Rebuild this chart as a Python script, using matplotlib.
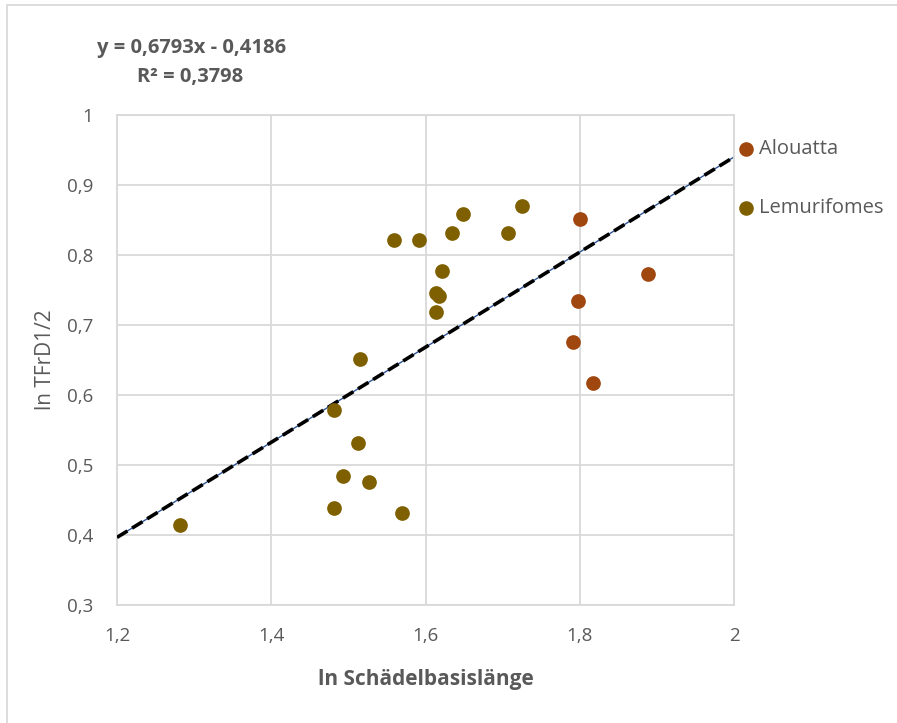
import matplotlib.pyplot as plt
from matplotlib.lines import Line2D

plt.rcParams['font.family'] = ['Open Sans', 'DejaVu Sans']

# ln Schädelbasislänge / ln TFrD1/2
alouatta_x = [1.800, 1.888, 1.798, 1.791, 1.817]
alouatta_y = [0.852, 0.773, 0.735, 0.675, 0.617]

lemur_x = [1.282, 1.481, 1.481, 1.493, 1.512, 1.515, 1.527, 1.569, 1.559, 1.591,
           1.613, 1.614, 1.618, 1.622, 1.634, 1.649, 1.707, 1.725]
lemur_y = [0.414, 0.579, 0.438, 0.484, 0.531, 0.651, 0.476, 0.431, 0.822, 0.822,
           0.719, 0.746, 0.742, 0.777, 0.831, 0.859, 0.831, 0.870]

slope, intercept, r2 = 0.6793, -0.4186, 0.3798

grey = '#595959'
grid_c = '#D9D9D9'

fig = plt.figure(figsize=(8.97, 7.23), dpi=100)
ax = fig.add_axes([117/897, 1-605/723, (734-117)/897, (605-115)/723])

ax.set_xlim(1.2, 2.0)
ax.set_ylim(0.3, 1.0)
ax.set_xticks([1.2, 1.4, 1.6, 1.8, 2.0])
ax.set_yticks([0.3, 0.4, 0.5, 0.6, 0.7, 0.8, 0.9, 1.0])
ax.set_xticklabels(['1,2', '1,4', '1,6', '1,8', '2'])
ax.set_yticklabels(['0,3', '0,4', '0,5', '0,6', '0,7', '0,8', '0,9', '1'])
ax.grid(True, color=grid_c, lw=1.3)
ax.set_axisbelow(True)
for s in ax.spines.values():
    s.set_color(grid_c)
    s.set_linewidth(1.3)
ax.tick_params(length=0, labelsize=13.5, colors=grey)
ax.tick_params(axis='x', pad=16)
ax.tick_params(axis='y', pad=17)

# trendline
tx = [1.2, 2.0]
ty = [slope * v + intercept for v in tx]
ax.plot(tx, ty, color='#2F5597', lw=1, zorder=2)
ax.plot(tx, ty, color='black', lw=2.6, ls=(0, (3.4, 1.5)), zorder=3)

ax.scatter(alouatta_x, alouatta_y, s=112, color='#A0460F', zorder=4, linewidths=0, clip_on=False)
ax.scatter(lemur_x, lemur_y, s=112, color='#7F6000', zorder=4, linewidths=0, clip_on=False)

ax.set_xlabel('ln Schädelbasislänge', fontsize=15, fontweight='bold', color=grey, labelpad=17)
ax.set_ylabel('ln TFrD1/2', fontsize=15, color=grey, labelpad=8)

fig.text(192/897, 1-48/723, 'y = 0,6793x - 0,4186', ha='center', va='center',
         fontsize=14.5, fontweight='bold', color=grey)
fig.text(190/897, 1-77/723, 'R² = 0,3798', ha='center', va='center',
         fontsize=14.5, fontweight='bold', color=grey)

# legend
leg = [('Alouatta', '#A0460F', 149), ('Lemurifomes', '#7F6000', 208)]
for name, c, yy in leg:
    fig.add_artist(Line2D([746/897], [1-yy/723], marker='o', markersize=10.5,
                          color=c, lw=0, markeredgewidth=0))
    fig.text(759/897, 1-yy/723, name, ha='left', va='center', fontsize=14.5, color=grey)

# chart border (only top and left visible)
fig.add_artist(Line2D([7/897, 7/897, 1.0], [0.0, 1-5/723, 1-5/723], color=grid_c, lw=1.3))

fig.savefig('out.png', dpi=100)
